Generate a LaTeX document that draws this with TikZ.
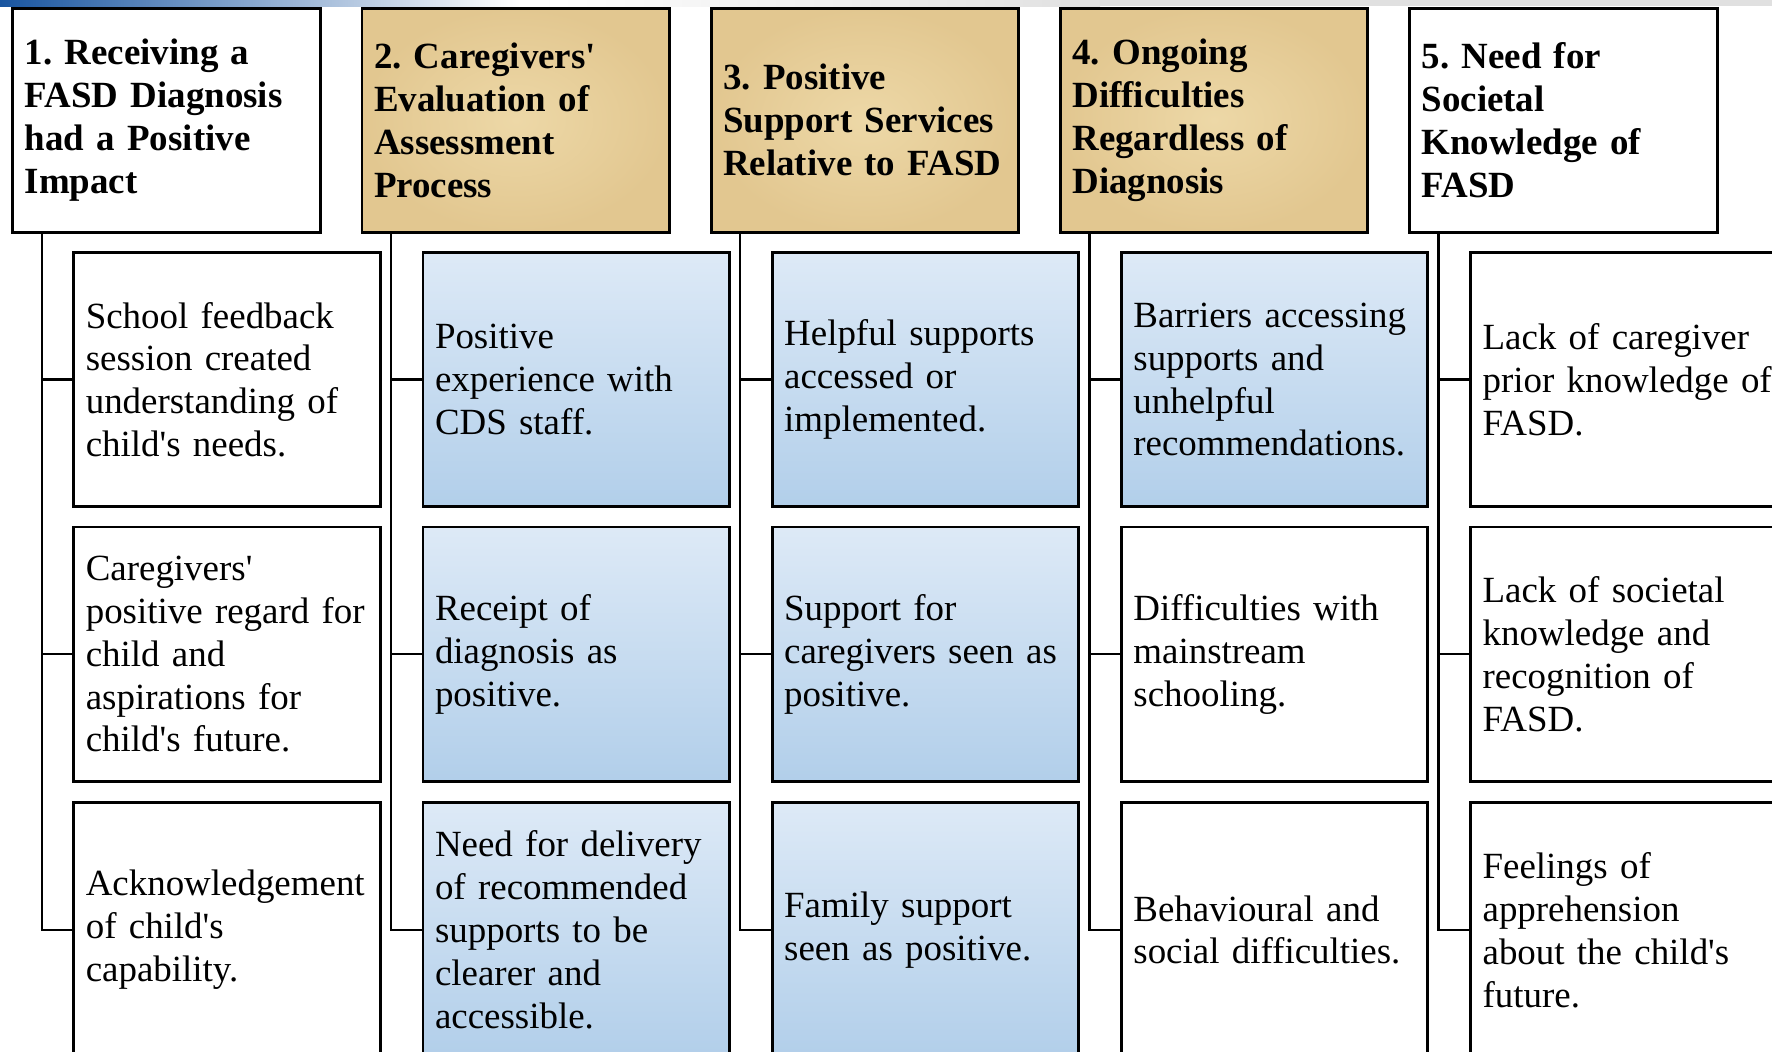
\documentclass[tikz,border=0pt]{standalone}
\usepackage{fontspec}
\setmainfont{Liberation Serif}
\frenchspacing
\definecolor{tanlight}{RGB}{237,216,167}
\definecolor{tandark}{RGB}{226,199,144}
\definecolor{bluetop}{RGB}{243,247,253}
\definecolor{bluemid}{RGB}{175,205,233}
\definecolor{bluebot}{RGB}{193,216,238}
\definecolor{bandblue}{RGB}{25,85,160}
\pgfdeclareverticalshading{itemblue}{100bp}{color(0bp)=(bluebot); color(22bp)=(bluemid); color(100bp)=(bluetop)}
\newcommand{\apo}{\textquotesingle}
\begin{document}
\begin{tikzpicture}[x=0.01cm, y=-0.01cm,
  nowrap/.style={execute at begin node={\rightskip=0pt plus 1fil minus 1cm\relax\linepenalty=1000\relax}},
  head/.style={draw, line width=.85pt, fill=white, anchor=north west, inner xsep=.12cm,
    text width=2.834cm, minimum height=2.237cm, align=left, nowrap,
    font=\fontsize{10.5}{12.2}\selectfont\bfseries},
  tanhead/.style={head, shading=radial, inner color=tanlight, outer color=tandark},
  item/.style={draw, line width=.85pt, fill=white, anchor=north west, inner xsep=.12cm,
    text width=2.823cm, minimum height=2.543cm, align=left, nowrap,
    font=\fontsize{10.5}{12.2}\selectfont},
  blueitem/.style={item, shade, shading=itemblue},
  link/.style={line width=.7pt}]
\useasboundingbox (0,0) rectangle (1772,1051);
% band at the top
\shade[left color=bandblue, right color=white] (0,0) rectangle (520,6);
\shade[left color=white, right color=black!12] (520,0) rectangle (1100,6);
\fill[black!12] (1100,0) rectangle (1772,6);
% themes
\node[head] (h1) at (11.3,6.8) {1. Receiving a\\FASD Diagnosis\\had a Positive\\Impact};
\node[tanhead] (h2) at (360.5,6.8) {2. Caregivers\apo\\Evaluation of\\Assessment\\Process};
\node[tanhead] (h3) at (709.7,6.8) {3. Positive\\Support Services\\Relative to FASD};
\node[tanhead] (h4) at (1058.9,6.8) {4. Ongoing\\Difficulties\\Regardless of\\Diagnosis};
\node[head] (h5) at (1408.1,6.8) {5. Need for\\Societal\\Knowledge of\\FASD};
% subthemes
\node[item] (c11) at (72.3,250.9) {School feedback\\session created\\understanding of\\child\apo s needs.};
\node[item] (c12) at (72.3,525.5) {Caregivers\apo\\positive regard for\\child and\\aspirations for\\child\apo s future.};
\node[item] (c13) at (72.3,801.2) {Acknowledgement\\of child\apo s\\capability.};
\node[blueitem] (c21) at (421.5,250.9) {Positive\\experience with\\CDS staff.};
\node[blueitem] (c22) at (421.5,525.5) {Receipt of\\diagnosis as\\positive.};
\node[blueitem] (c23) at (421.5,801.2) {Need for delivery\\of recommended\\supports to be\\clearer and\\accessible.};
\node[blueitem] (c31) at (770.7,250.9) {Helpful supports\\accessed or\\implemented.};
\node[blueitem] (c32) at (770.7,525.5) {Support for\\caregivers seen as\\positive.};
\node[blueitem] (c33) at (770.7,801.2) {Family support\\seen as positive.};
\node[blueitem] (c41) at (1119.9,250.9) {Barriers accessing\\supports and\\unhelpful\\recommendations.};
\node[item] (c42) at (1119.9,525.5) {Difficulties with\\mainstream\\schooling.};
\node[item] (c43) at (1119.9,801.2) {Behavioural and\\social difficulties.};
\node[item] (c51) at (1469.1,250.9) {Lack of caregiver\\prior knowledge of\\FASD.};
\node[item] (c52) at (1469.1,525.5) {Lack of societal\\knowledge and\\recognition of\\FASD.};
\node[item] (c53) at (1469.1,801.2) {Feelings of\\apprehension\\about the child\apo s\\future.};
% links
\coordinate (v1) at ([xshift=.305cm]h1.south west);
\coordinate (v2) at ([xshift=.305cm]h2.south west);
\coordinate (v3) at ([xshift=.305cm]h3.south west);
\coordinate (v4) at ([xshift=.305cm]h4.south west);
\coordinate (v5) at ([xshift=.305cm]h5.south west);
\draw[link] (v1) |- (c13.west);
\draw[link] (v1 |- c11.west) -- (c11.west);
\draw[link] (v1 |- c12.west) -- (c12.west);
\draw[link] (v2) |- (c23.west);
\draw[link] (v2 |- c21.west) -- (c21.west);
\draw[link] (v2 |- c22.west) -- (c22.west);
\draw[link] (v3) |- (c33.west);
\draw[link] (v3 |- c31.west) -- (c31.west);
\draw[link] (v3 |- c32.west) -- (c32.west);
\draw[link] (v4) |- (c43.west);
\draw[link] (v4 |- c41.west) -- (c41.west);
\draw[link] (v4 |- c42.west) -- (c42.west);
\draw[link] (v5) |- (c53.west);
\draw[link] (v5 |- c51.west) -- (c51.west);
\draw[link] (v5 |- c52.west) -- (c52.west);
\end{tikzpicture}
\end{document}
